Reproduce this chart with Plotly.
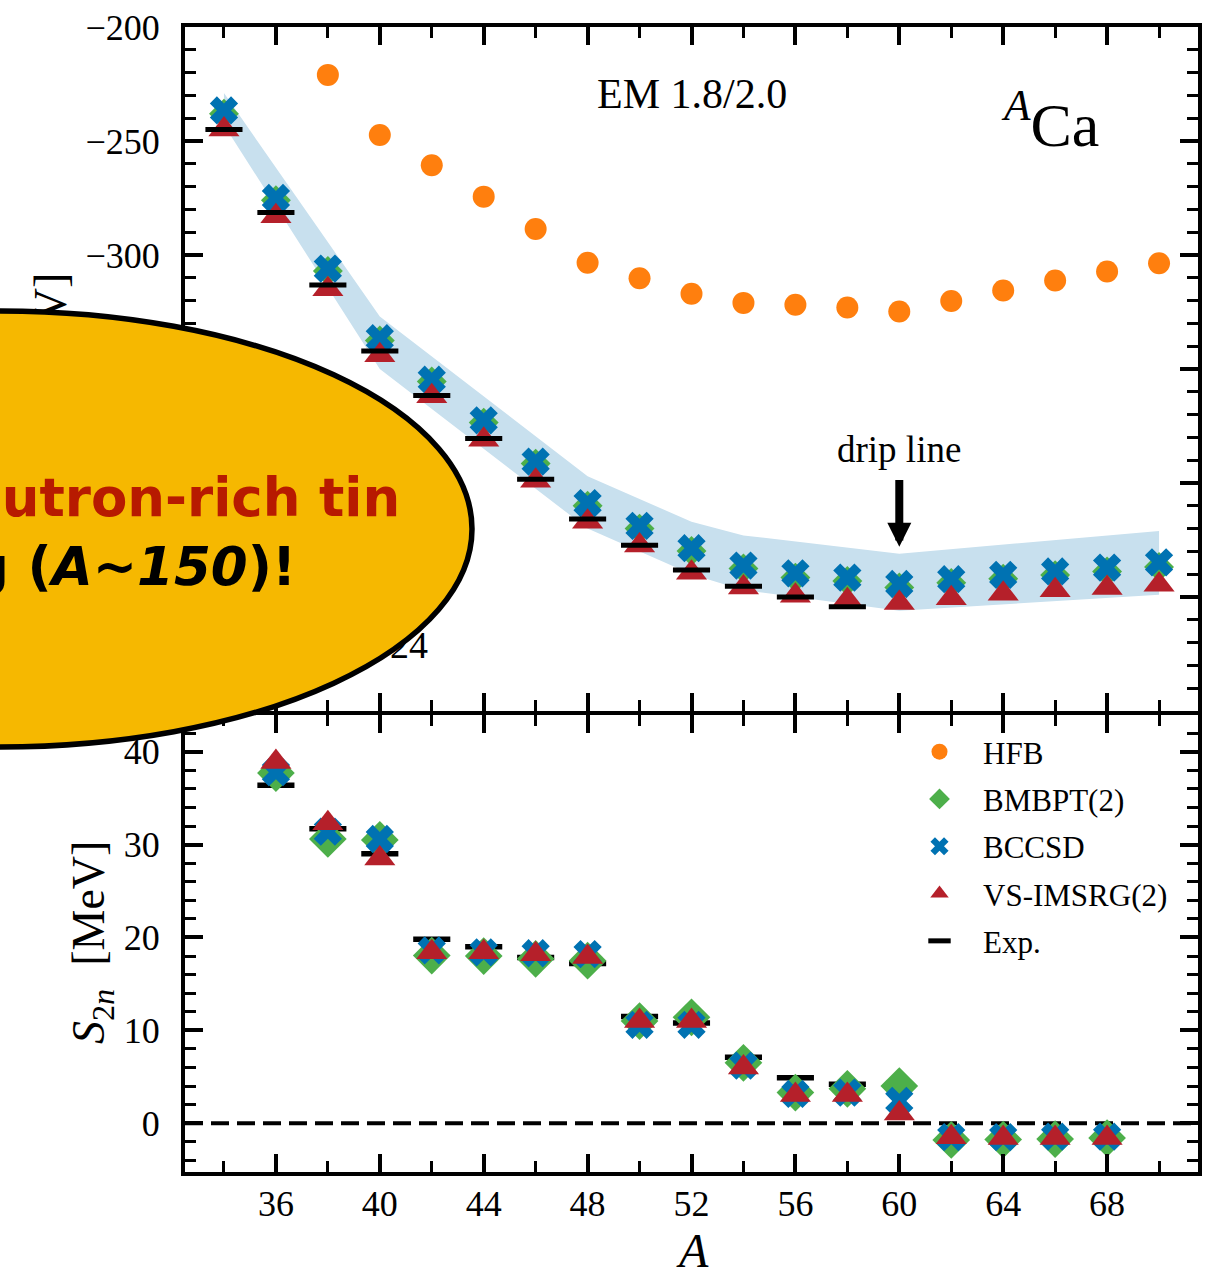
import plotly.graph_objects as go

# ------------------------------------------------------------------ data
# top panel: ground-state energies of Ca isotopes [MeV]
A_top = [34, 36, 38, 40, 42, 44, 46, 48, 50, 52, 54, 56, 58, 60, 62, 64, 66, 68, 70]
A_hfb = [38, 40, 42, 44, 46, 48, 50, 52, 54, 56, 58, 60, 62, 64, 66, 68, 70]
E_hfb = [-221.0, -247.4, -260.6, -274.4, -288.6, -303.4, -310.2, -317.0, -321.0,
         -321.8, -323.0, -324.8, -320.2, -315.6, -311.2, -307.2, -303.6]
E_bmbpt = [-238.0, -276.0, -307.0, -337.5, -355.5, -373.5, -391.5, -410.0, -420.0,
           -429.8, -437.5, -441.5, -443.0, -445.8, -443.8, -442.0, -440.4, -438.8, -436.8]
E_bccsd = [-236.6, -275.0, -306.0, -336.5, -354.7, -372.5, -390.6, -408.8, -418.8,
           -428.6, -436.2, -439.6, -441.5, -444.3, -442.2, -440.3, -438.8, -437.1, -434.8]
E_vs = [-245.0, -283.0, -315.0, -344.0, -362.0, -381.0, -399.0, -417.0, -427.4,
        -439.4, -445.8, -449.4, -451.4, -452.6, -450.6, -448.6, -447.0, -446.0, -444.6]
A_exp_top = [34, 36, 38, 40, 42, 44, 46, 48, 50, 52, 54, 56, 58]
E_exp = [-245.0, -281.4, -313.2, -342.1, -361.6, -380.5, -398.4, -415.8, -427.3,
         -438.2, -445.3, -450.0, -454.3]
# uncertainty band (vertices)
A_band = [34, 40, 48, 52, 54, 60, 70]
E_band_hi = [-229.0, -327.0, -397.0, -417.0, -423.0, -431.0, -421.0]
E_band_lo = [-243.0, -350.0, -420.0, -440.0, -447.0, -456.0, -449.0]

# bottom panel: two-neutron separation energies [MeV]
A_s2n = [36, 38, 40, 42, 44, 46, 48, 50, 52, 54, 56, 58, 60, 62, 64, 66, 68]
S2n_bmbpt = [37.7, 30.6, 30.5, 18.05, 18.0, 17.7, 17.5, 11.0, 11.4, 6.5, 3.3, 3.7, 4.0,
             -1.8, -1.75, -1.7, -1.6]
S2n_bccsd = [37.8, 31.4, 30.6, 18.6, 18.4, 18.3, 18.2, 10.6, 10.6, 6.2, 3.15, 3.3, 2.4,
             -1.5, -1.5, -1.45, -1.45]
S2n_vs = [38.9, 32.3, 28.5, 18.4, 18.4, 18.2, 17.9, 11.0, 11.0, 6.0, 3.05, 3.05, 1.05,
          -1.5, -1.6, -1.6, -1.6]
A_exp_s2n = [36, 38, 40, 42, 44, 46, 48, 50, 52, 54, 56, 58]
S2n_exp = [36.4, 31.7, 29.0, 19.8, 19.0, 17.85, 17.2, 11.5, 10.8, 7.1, 4.9, 4.2]

# tick labels
x_ticks = [36, 40, 44, 48, 52, 56, 60, 64, 68]
y_ticks_top = [-500, -450, -400, -350, -300, -250, -200]
y_ticks_bot = [0, 10, 20, 30, 40]

# ------------------------------------------------------------------ style
W, H = 1212, 1271
def fx(p):
    return p / W
def fy(p):
    return 1 - p / H

SERIF = "Liberation Serif"
C_HFB = "#ff7f0e"
C_BMB = "#4daf4a"
C_BCC = "#0072b2"
C_VS = "#b5202a"
C_BAND = "rgb(200,224,238)"

fig = go.Figure()

# top panel
fig.add_trace(go.Scatter(
    x=A_band + A_band[::-1], y=E_band_hi + E_band_lo[::-1],
    fill="toself", fillcolor=C_BAND, mode="lines", line=dict(width=0),
    showlegend=False, hoverinfo="skip", xaxis="x", yaxis="y"))
fig.add_trace(go.Scatter(x=A_hfb, y=E_hfb, mode="markers", name="HFB",
    legendgroup="hfb", marker=dict(symbol="circle", size=22, color=C_HFB, line=dict(width=0)),
    xaxis="x", yaxis="y"))
fig.add_trace(go.Scatter(x=A_top, y=E_bmbpt, mode="markers", name="BMBPT(2)",
    legendgroup="bmb", marker=dict(symbol="diamond", size=23, color=C_BMB, line=dict(width=0)),
    xaxis="x", yaxis="y"))
fig.add_trace(go.Scatter(x=A_top, y=E_bccsd, mode="markers", name="BCCSD",
    legendgroup="bcc", marker=dict(symbol="x", size=25, color=C_BCC, line=dict(width=0)),
    xaxis="x", yaxis="y"))
fig.add_trace(go.Scatter(x=A_top, y=E_vs, mode="markers", name="VS-IMSRG(2)",
    legendgroup="vs", marker=dict(symbol="triangle-up", size=27, color=C_VS, line=dict(width=0)),
    xaxis="x", yaxis="y"))
fig.add_trace(go.Scatter(x=A_exp_top, y=E_exp, mode="markers", name="Exp.",
    legendgroup="exp", marker=dict(symbol="line-ew", size=26.5, color="black",
                                   line=dict(width=5, color="black")),
    xaxis="x", yaxis="y"))

# bottom panel
fig.add_trace(go.Scatter(x=A_exp_s2n, y=S2n_exp, mode="markers", name="Exp.",
    legendgroup="exp", showlegend=False,
    marker=dict(symbol="line-ew", size=26.5, color="black", line=dict(width=5.5, color="black")),
    xaxis="x2", yaxis="y2"))
fig.add_trace(go.Scatter(x=A_s2n, y=S2n_bmbpt, mode="markers", name="BMBPT(2)",
    legendgroup="bmb", showlegend=False,
    marker=dict(symbol="diamond", size=29, color=C_BMB, line=dict(width=0)),
    xaxis="x2", yaxis="y2"))
fig.add_trace(go.Scatter(x=A_s2n, y=S2n_bccsd, mode="markers", name="BCCSD",
    legendgroup="bcc", showlegend=False,
    marker=dict(symbol="x", size=25, color=C_BCC, line=dict(width=0)),
    xaxis="x2", yaxis="y2"))
fig.add_trace(go.Scatter(x=A_s2n, y=S2n_vs, mode="markers", name="VS-IMSRG(2)",
    legendgroup="vs", showlegend=False,
    marker=dict(symbol="triangle-up", size=27, color=C_VS, line=dict(width=0)),
    xaxis="x2", yaxis="y2"))

# ------------------------------------------------------------------ axes
tickfont = dict(family=SERIF, size=36, color="black")
common = dict(showline=True, linewidth=4, linecolor="black", mirror="allticks",
              ticks="inside", ticklen=18, tickwidth=3.5, tickcolor="black",
              showgrid=False, zeroline=False, tickfont=tickfont, automargin=False)
xdom = [fx(185), fx(1198)]
xrange = [32.5, 71.5]

fig.update_layout(
    xaxis=dict(domain=xdom, range=xrange, anchor="y", tickmode="array", tickvals=x_ticks,
               showticklabels=False,
               minor=dict(tickmode="linear", tick0=0, dtick=2, ticklen=11, tickwidth=2.5,
                          ticks="inside", tickcolor="black"), **common),
    yaxis=dict(domain=[fy(711), fy(27)], range=[-500, -200], anchor="x",
               tickmode="array", tickvals=y_ticks_top, ticklabelstandoff=14,
               minor=dict(tickmode="linear", tick0=0, dtick=10, ticklen=11, tickwidth=2.5,
                          ticks="inside", tickcolor="black"), **common),
    xaxis2=dict(domain=xdom, range=xrange, anchor="y2", tickmode="array", tickvals=x_ticks,
                ticklabelstandoff=-3,
                minor=dict(tickmode="linear", tick0=0, dtick=2, ticklen=11, tickwidth=2.5,
                           ticks="inside", tickcolor="black"), **common),
    yaxis2=dict(domain=[fy(1172), fy(715)], range=[-5.25, 43.95], anchor="x2",
                tickmode="array", tickvals=y_ticks_bot, ticklabelstandoff=14,
                minor=dict(tickmode="linear", tick0=0, dtick=2, ticklen=11, tickwidth=2.5,
                           ticks="inside", tickcolor="black"), **common),
)

# ------------------------------------------------------------------ shapes
shapes = [
    # zero line in S2n panel
    dict(type="line", xref="x2 domain", yref="y2", x0=0, x1=1, y0=0, y1=0,
         line=dict(color="black", width=4, dash="18px,8px"), layer="below"),
    # y title of top panel (partly hidden by the callout)
    dict(type="rect", xref="paper", yref="paper", x0=fx(20), x1=fx(70),
         y0=fy(455), y1=fy(255), line=dict(width=0), fillcolor="rgba(0,0,0,0)",
         layer="above",
         label=dict(text="<i>E</i> [MeV]", textangle=-90, textposition="middle center",
                    font=dict(family=SERIF, size=46, color="black"))),
    # reference text partly hidden by the callout
    dict(type="rect", xref="paper", yref="paper", x0=fx(250), x1=fx(434),
         y0=fy(660), y1=fy(622), line=dict(width=0), fillcolor="rgba(0,0,0,0)",
         layer="above",
         label=dict(text="2024", textposition="middle right",
                    font=dict(family=SERIF, size=38, color="black"))),
    # callout ellipse
    dict(type="circle", xref="paper", yref="paper", x0=fx(-472), x1=fx(472),
         y0=fy(747), y1=fy(311), fillcolor="#f6b800",
         line=dict(color="black", width=5.5), layer="above"),
]
fig.update_layout(shapes=shapes)

# ------------------------------------------------------------------ annotations
ann = [
    dict(text="EM 1.8/2.0", x=52, y=-229.2, xref="x", yref="y", showarrow=False,
         xanchor="center", yanchor="middle",
         font=dict(family=SERIF, size=42, color="black")),
    dict(text="<sup><i>A</i></sup>Ca", x=fx(1050), y=fy(120), xref="paper", yref="paper",
         xanchor="center", yanchor="middle",
         showarrow=False, font=dict(family=SERIF, size=62, color="black")),
    dict(text="drip line", x=60, y=-385.3, xref="x", yref="y", showarrow=False,
         xanchor="center", yanchor="middle",
         font=dict(family=SERIF, size=37, color="black")),
    dict(text="", x=60, y=-428, ax=60, ay=-398, xref="x", yref="y", axref="x", ayref="y",
         showarrow=True, arrowhead=2, arrowsize=0.6, arrowwidth=8, arrowcolor="black",
         standoff=0),
    dict(text="<i>S</i><sub>2<i>n</i></sub>  [MeV]", x=fx(92), y=fy(943),
         xref="paper", yref="paper", showarrow=False, textangle=-90,
         xanchor="center", yanchor="middle",
         font=dict(family=SERIF, size=46, color="black")),
    dict(text="<i>A</i>", x=fx(693), y=fy(1250), xref="paper", yref="paper",
         xanchor="center", yanchor="middle",
         showarrow=False, font=dict(family=SERIF, size=48, color="black")),
    dict(text="neutron-rich tin", x=fx(402), y=fy(497), xref="paper", yref="paper",
         xanchor="right", yanchor="middle", showarrow=False,
         font=dict(family="DejaVu Sans", size=53, color="#b71a00", weight="bold")),
    dict(text="g (<i>A~150</i>)!", x=fx(298), y=fy(566), xref="paper", yref="paper",
         xanchor="right", yanchor="middle", showarrow=False,
         font=dict(family="DejaVu Sans", size=53, color="black", weight="bold")),
]
fig.update_layout(annotations=ann)

fig.update_layout(
    width=W, height=H, autosize=False,
    margin=dict(l=0, r=0, t=0, b=0, pad=0, autoexpand=False),
    paper_bgcolor="white", plot_bgcolor="white",
    hovermode=False,
    legend=dict(x=fx(896), y=fy(725), xanchor="left", yanchor="top",
                bgcolor="rgba(0,0,0,0)", borderwidth=0, tracegroupgap=4,
                itemwidth=77,
                font=dict(family=SERIF, size=31, color="black")),
)

fig.write_html("out.html",
               config={"displayModeBar": False},
               post_script="document.body.style.margin='0';document.body.style.overflow='hidden';")
